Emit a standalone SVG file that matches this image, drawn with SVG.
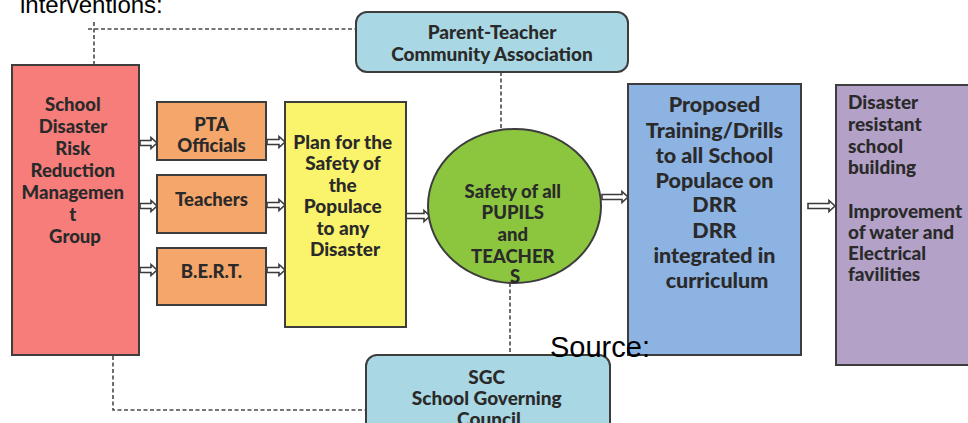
<svg xmlns="http://www.w3.org/2000/svg" width="968" height="423" viewBox="0 0 968 423">
  <style>
    .box { stroke: #3d3d3d; stroke-width: 2; }
    .lbl { font-family: Lato, "Open Sans", "DejaVu Sans", sans-serif; font-weight: 900; font-size: 18.5px; fill: #2a2a2a; text-anchor: middle; }
    .lbl-l { text-anchor: start; }
    .big { font-size: 21.5px; }
    .mid { font-size: 19px; }
    .link { fill: none; stroke: #4a4a4a; stroke-width: 1.6; stroke-dasharray: 4 2.5; }
    .arrow { fill: #ffffff; stroke: #3a3a3a; stroke-width: 1.6; stroke-linejoin: miter; }
    .note { font-family: "Liberation Sans", Arial, sans-serif; fill: #000000; }
  </style>

  <rect width="968" height="423" fill="#ffffff"/>

  <!-- heading fragment at the top edge -->
  <text class="note" x="20" y="13" font-size="24" fill="#333333">interventions:</text>

  <!-- connectors -->
  <g id="connectors">
    <!-- dashed links to the associations -->
    <path class="link" d="M94,65 V22 M88,29 H356"/>
    <path class="link" d="M113,356 V410 H366"/>
    <path class="link" d="M501,72 V129"/>
    <path class="link" d="M510,283 V369"/>
    <!-- block arrows -->
    <path class="arrow" d="M140,140.5 h11 v-3 l6,5.5 l-6,5.5 v-3 h-11 z"/>
    <path class="arrow" d="M140,203.5 h11 v-3 l6,5.5 l-6,5.5 v-3 h-11 z"/>
    <path class="arrow" d="M140,267.5 h11 v-3 l6,5.5 l-6,5.5 v-3 h-11 z"/>
    <path class="arrow" d="M267,139.5 h12 v-3 l6,5.5 l-6,5.5 v-3 h-12 z"/>
    <path class="arrow" d="M267,202.5 h12 v-3 l6,5.5 l-6,5.5 v-3 h-12 z"/>
    <path class="arrow" d="M267,267.5 h12 v-3 l6,5.5 l-6,5.5 v-3 h-12 z"/>
    <path class="arrow" d="M405,213.5 h19 v-3 l6,5.5 l-6,5.5 v-3 h-19 z"/>
    <path class="arrow" d="M602,194.5 h20 v-3 l6,5.5 l-6,5.5 v-3 h-20 z"/>
    <path class="arrow" d="M808,203.5 h21 v-3 l6,5.5 l-6,5.5 v-3 h-21 z"/>
  </g>

  <g id="sdrrm-group">
    <rect class="box" x="12" y="65" width="127" height="290" fill="#f77d7b"/>
    <text class="lbl">
      <tspan x="75" y="111">School</tspan>
      <tspan x="75" y="133">Disaster</tspan>
      <tspan x="75" y="155">Risk</tspan>
      <tspan x="75" y="177">Reduction</tspan>
      <tspan x="75" y="199">Managemen</tspan>
      <tspan x="75" y="221">t</tspan>
      <tspan x="75" y="243">Group</tspan>
    </text>
  </g>

  <g id="pta-officials">
    <rect class="box" x="157" y="102" width="109" height="58" fill="#f5a66a"/>
    <text class="lbl"><tspan x="211.5" y="131">PTA</tspan><tspan x="211.5" y="152">Officials</tspan></text>
  </g>

  <g id="teachers">
    <rect class="box" x="157" y="175" width="109" height="58" fill="#f5a66a"/>
    <text class="lbl" x="211.5" y="206">Teachers</text>
  </g>

  <g id="bert">
    <rect class="box" x="157" y="248" width="109" height="57" fill="#f5a66a"/>
    <text class="lbl" x="211.5" y="278">B.E.R.T.</text>
  </g>

  <g id="safety-plan">
    <rect class="box" x="285" y="102" width="121" height="225" fill="#faf46c"/>
    <text class="lbl mid">
      <tspan x="345" y="149">Plan for the</tspan>
      <tspan x="345" y="170">Safety of</tspan>
      <tspan x="345" y="192">the</tspan>
      <tspan x="345" y="213">Populace</tspan>
      <tspan x="345" y="235">to any</tspan>
      <tspan x="345" y="256">Disaster</tspan>
    </text>
  </g>

  <g id="ptca">
    <rect class="box" x="356" y="12" width="272" height="60" rx="11" fill="#a9d7e3"/>
    <text class="lbl mid"><tspan x="492" y="39">Parent-Teacher</tspan><tspan x="492" y="61">Community Association</tspan></text>
  </g>

  <g id="safety-outcome">
    <ellipse class="box" cx="514.5" cy="206" rx="86.5" ry="77" fill="#8cc63f"/>
    <text class="lbl">
      <tspan x="515" y="198">Safety of all</tspan>
      <tspan x="515" y="219">PUPILS</tspan>
      <tspan x="515" y="241">and</tspan>
      <tspan x="515" y="263">TEACHER</tspan>
      <tspan x="515" y="283">S</tspan>
    </text>
  </g>

  <g id="training">
    <rect class="box" x="628" y="84" width="173" height="271" fill="#8db3e2"/>
    <text class="lbl big">
      <tspan x="717" y="112">Proposed</tspan>
      <tspan x="717" y="138">Training/Drills</tspan>
      <tspan x="717" y="163">to all School</tspan>
      <tspan x="717" y="188">Populace on</tspan>
      <tspan x="717" y="212">DRR</tspan>
      <tspan x="717" y="238">DRR</tspan>
      <tspan x="717" y="263">integrated in</tspan>
      <tspan x="717" y="288">curriculum</tspan>
    </text>
  </g>

  <g id="infrastructure">
    <rect class="box" x="836" y="85" width="140" height="280" fill="#b3a1c8"/>
    <text class="lbl lbl-l mid">
      <tspan x="848" y="109">Disaster</tspan>
      <tspan x="848" y="131">resistant</tspan>
      <tspan x="848" y="153">school</tspan>
      <tspan x="848" y="174">building</tspan>
      <tspan x="848" y="218">Improvement</tspan>
      <tspan x="848" y="239">of water and</tspan>
      <tspan x="848" y="260">Electrical</tspan>
      <tspan x="848" y="281">favilities</tspan>
    </text>
  </g>

  <g id="sgc">
    <rect class="box" x="366" y="355" width="244" height="90" rx="11" fill="#a9d7e3"/>
    <text class="lbl mid">
      <tspan x="489" y="384">SGC</tspan>
      <tspan x="489" y="405">School Governing</tspan>
      <tspan x="489" y="426">Council</tspan>
    </text>
  </g>

  <text class="note" x="550" y="357" font-size="29">Source:</text>
</svg>
